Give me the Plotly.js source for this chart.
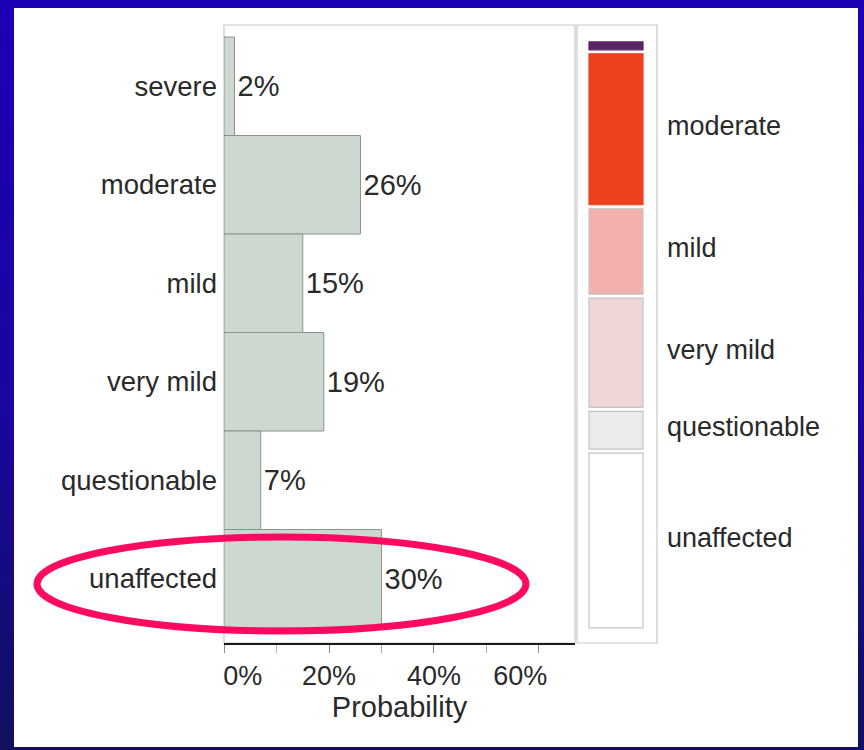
<!DOCTYPE html>
<html>
<head>
<meta charset="utf-8">
<script src="https://cdn.plot.ly/plotly-3.0.1.min.js"></script>
<style>
  html, body { margin: 0; padding: 0; }
  body { width: 864px; height: 750px; overflow: hidden;
         background: linear-gradient(180deg, #1c00b6 0%, #1a06a0 55%, #12105e 100%); position: relative; }
  #chart { position: absolute; left: 14px; top: 8px; width: 844px; height: 739px; background: #fff; }
</style>
</head>
<body>
<div id="chart"></div>
<script>
// ---- data ----
const categories = ['severe', 'moderate', 'mild', 'very mild', 'questionable', 'unaffected'];
const probabilities = [0.02, 0.26, 0.15, 0.19, 0.07, 0.30];
const segmentColors = ['#5c2466', '#ec401e', '#f4b0ad', '#f1d6d6', '#ececec', '#ffffff'];
const xTickVals = [0, 0.2, 0.4, 0.6];
const xTickText = ['0%', '20%', '40%', '60%'];

// ---- layout helpers ----
const W = 844, H = 739;
const px = v => v / W;           // x pixel -> paper fraction
const py = v => 1 - v / H;       // y pixel (from top) -> paper fraction
const NB = '\u00a0';

const font = 'Liberation Sans, Arial, Helvetica, sans-serif';
const txt = '#2a2a2a';

// stacked (bottom = unaffected) cumulative bases
const n = categories.length;
const bases = new Array(n);
let acc = 0;
for (let i = n - 1; i >= 0; i--) { bases[i] = acc; acc += probabilities[i]; }
const gap = 0.0034; // visual gap between stacked segments (styling)

// end tick labels are nudged inward like the original
const tickLabels = xTickText.map((t, i) =>
  i === 0 ? NB.repeat(5) + t : (i === xTickText.length - 1 ? t + NB.repeat(5) : t));

const mainBars = {
  type: 'bar', orientation: 'h',
  y: categories, x: probabilities,
  xaxis: 'x', yaxis: 'y',
  width: 1,
  marker: { color: '#cdd9d0', line: { color: '#8a938c', width: 1 } },
  texttemplate: '%{x:.0%}', textposition: 'outside', cliponaxis: false,
  constraintext: 'none',
  textfont: { family: font, size: 29, color: txt },
  hoverinfo: 'none'
};

const stackBars = {
  type: 'bar',
  x: categories.map(() => 0),
  y: probabilities.map(v => v - 2 * gap),
  base: bases.map(b => b + gap),
  xaxis: 'x2', yaxis: 'y2',
  width: 1,
  marker: {
    color: segmentColors,
    line: { color: segmentColors.map((c, i) => i < 2 ? c : '#c4c4c4'), width: 1.2 }
  },
  hoverinfo: 'none'
};

// right-side labels at segment centres (small segments unlabeled)
const annotations = [];
categories.forEach((c, i) => {
  if (probabilities[i] >= 0.05) {
    annotations.push({
      xref: 'paper', yref: 'y2', x: px(651), y: bases[i] + probabilities[i] / 2,
      text: c, showarrow: false, xanchor: 'left', yanchor: 'middle', yshift: 3,
      font: { family: font, size: 27, color: txt }
    });
  }
});

const mainTop = 17, mainBot = 635;
const layout = {
  width: W, height: H,
  margin: { l: 0, r: 0, t: 0, b: 0 },
  paper_bgcolor: '#ffffff', plot_bgcolor: 'rgba(0,0,0,0)',
  showlegend: false,
  bargap: 0,
  font: { family: font, color: txt },
  xaxis: {
    domain: [px(210), px(561)],
    range: [0, 0.6686],
    tickvals: xTickVals, ticktext: tickLabels,
    ticks: 'outside', ticklen: 8, tickcolor: '#8a8a8a', tickwidth: 1,
    minor: { tickvals: [0.1, 0.3, 0.5], ticks: 'outside', ticklen: 8, tickcolor: '#b0b0b0' },
    showline: true, linecolor: '#1a1a1a', linewidth: 2,
    showgrid: false, zeroline: false,
    tickfont: { family: font, size: 27, color: txt },
    title: { text: 'Probability' + NB + NB, font: { family: font, size: 29, color: txt }, standoff: 4 },
    fixedrange: true
  },
  yaxis: {
    domain: [py(mainBot), py(mainTop)],
    type: 'category',
    categoryorder: 'array', categoryarray: categories,
    range: [5.652, -0.622],
    ticks: '', showline: false, showgrid: false, zeroline: false,
    ticklabelstandoff: 6,
    tickfont: { family: font, size: 27.5, color: txt },
    fixedrange: true
  },
  xaxis2: {
    domain: [px(563), px(643)], anchor: 'y2',
    range: [-0.722, 0.759],
    showticklabels: false, ticks: '', showgrid: false, zeroline: false, showline: false,
    fixedrange: true
  },
  yaxis2: {
    domain: [py(mainBot), py(mainTop)], anchor: 'x2',
    range: [-0.022, 1.015],
    showticklabels: false, ticks: '', showgrid: false, zeroline: false, showline: false,
    fixedrange: true
  },
  annotations: annotations,
  shapes: [
    { type: 'rect', xref: 'x domain', yref: 'y domain', x0: 0, x1: 1, y0: 0, y1: 1,
      line: { color: '#c8c8c8', width: 1.2 }, layer: 'below' },
    { type: 'rect', xref: 'x2 domain', yref: 'y2 domain', x0: 0, x1: 1, y0: 0, y1: 1,
      line: { color: '#c8c8c8', width: 1.2 }, layer: 'below' },
    { type: 'circle', xref: 'paper', yref: 'paper',
      x0: px(23), x1: px(512), y0: py(623), y1: py(529),
      line: { color: '#ff0a62', width: 7 }, layer: 'above' }
  ]
};

Plotly.newPlot('chart', [mainBars, stackBars], layout, { displayModeBar: false, staticPlot: true });
</script>
</body>
</html>
